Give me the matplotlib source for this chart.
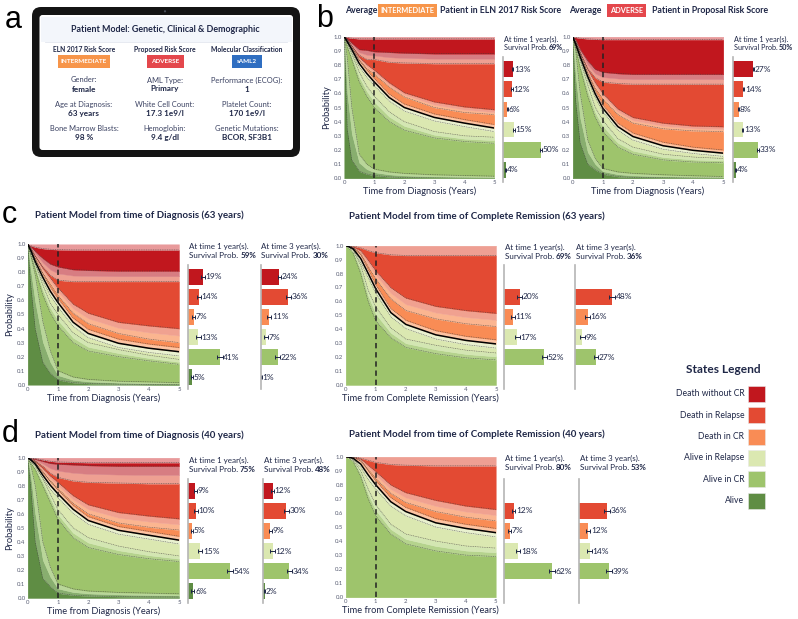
import matplotlib
matplotlib.use('Agg')
import matplotlib.pyplot as plt
from matplotlib.patches import FancyBboxPatch, Rectangle, Circle
import numpy as np

# ---------------- DATA ----------------
T = [0, 0.1, 0.25, 0.5, 0.75, 1, 1.5, 2, 3, 4, 5]

# panel b, left (average INTERMEDIATE patient)
bL_alive_lo = [1, 0.35, 0.13, 0.05, 0.03, 0.02, 0.01, 0.005, 0.002, 0.001, 0.0]
bL_alive_hi = [1, 0.85, 0.50, 0.17, 0.10, 0.065, 0.045, 0.035, 0.025, 0.02, 0.015]
bL_cr_lo = [1, 0.93, 0.84, 0.68, 0.58, 0.50, 0.40, 0.34, 0.285, 0.26, 0.247]
bL_cr_hi = [1, 0.95, 0.88, 0.75, 0.65, 0.58, 0.47, 0.40, 0.33, 0.30, 0.29]
bL_surv_lo = [1, 0.955, 0.895, 0.785, 0.715, 0.655, 0.545, 0.475, 0.405, 0.365, 0.33]
bL_surv_hi = [1, 0.975, 0.925, 0.835, 0.765, 0.705, 0.595, 0.525, 0.455, 0.415, 0.38]
bL_dcr_lo = [1, 0.975, 0.925, 0.835, 0.775, 0.735, 0.645, 0.575, 0.50, 0.465, 0.45]
bL_dcr_hi = [1, 0.98, 0.935, 0.855, 0.805, 0.765, 0.675, 0.605, 0.54, 0.505, 0.485]
bL_dr_lo = [1, 0.98, 0.935, 0.87, 0.84, 0.84, 0.82, 0.815, 0.81, 0.81, 0.81]
bL_dr_hi = [1, 0.985, 0.955, 0.91, 0.905, 0.895, 0.89, 0.885, 0.88, 0.88, 0.88]
bL_top_lo = [1, 0.995, 0.99, 0.985, 0.985, 0.985, 0.985, 0.985, 0.985, 0.985, 0.985]

# panel b, right (average ADVERSE patient)
bR_alive_lo = [1, 0.55, 0.25, 0.10, 0.06, 0.03, 0.012, 0.006, 0.003, 0.002, 0.001]
bR_alive_hi = [1, 0.90, 0.60, 0.27, 0.14, 0.07, 0.045, 0.035, 0.025, 0.018, 0.013]
bR_cr_lo = [1, 0.92, 0.78, 0.58, 0.43, 0.33, 0.22, 0.17, 0.13, 0.115, 0.11]
bR_cr_hi = [1, 0.935, 0.83, 0.66, 0.50, 0.41, 0.28, 0.22, 0.17, 0.15, 0.14]
bR_surv_lo = [1, 0.935, 0.84, 0.695, 0.57, 0.47, 0.34, 0.27, 0.205, 0.175, 0.155]
bR_surv_hi = [1, 0.96, 0.875, 0.74, 0.62, 0.52, 0.39, 0.32, 0.255, 0.22, 0.20]
bR_dcr_lo = [1, 0.962, 0.88, 0.745, 0.635, 0.56, 0.45, 0.39, 0.35, 0.335, 0.33]
bR_dcr_hi = [1, 0.968, 0.888, 0.77, 0.675, 0.60, 0.49, 0.43, 0.39, 0.37, 0.365]
bR_dr_lo = [1, 0.97, 0.89, 0.775, 0.71, 0.68, 0.67, 0.665, 0.665, 0.665, 0.665]
bR_dr_hi = [1, 0.98, 0.91, 0.83, 0.77, 0.75, 0.74, 0.735, 0.735, 0.735, 0.735]
bR_top_lo = [1, 0.995, 0.99, 0.985, 0.982, 0.98, 0.98, 0.98, 0.98, 0.98, 0.98]

# panel c, left (diagnosis, 63 years)
cL_alive_lo = [1, 0.72, 0.40, 0.16, 0.08, 0.035, 0.015, 0.008, 0.004, 0.002, 0.001]
cL_alive_hi = [1, 0.92, 0.78, 0.45, 0.24, 0.10, 0.055, 0.038, 0.025, 0.02, 0.015]
cL_cr_lo = [1, 0.93, 0.82, 0.64, 0.51, 0.42, 0.30, 0.24, 0.20, 0.17, 0.145]
cL_cr_hi = [1, 0.945, 0.86, 0.71, 0.58, 0.50, 0.37, 0.30, 0.25, 0.21, 0.18]
cL_surv_lo = [1, 0.95, 0.86, 0.74, 0.635, 0.555, 0.415, 0.335, 0.265, 0.23, 0.205]
cL_surv_hi = [1, 0.965, 0.895, 0.79, 0.695, 0.615, 0.475, 0.395, 0.325, 0.29, 0.265]
cL_dcr_lo = [1, 0.967, 0.90, 0.795, 0.715, 0.635, 0.51, 0.435, 0.365, 0.325, 0.30]
cL_dcr_hi = [1, 0.973, 0.915, 0.83, 0.76, 0.69, 0.575, 0.51, 0.445, 0.42, 0.40]
cL_dr_lo = [1, 0.975, 0.92, 0.84, 0.78, 0.745, 0.735, 0.735, 0.735, 0.735, 0.735]
cL_dr_hi = [1, 0.985, 0.95, 0.90, 0.86, 0.84, 0.82, 0.815, 0.81, 0.81, 0.81]
cL_top_lo = [1, 0.99, 0.98, 0.97, 0.965, 0.962, 0.96, 0.96, 0.96, 0.96, 0.96]

# panel c, right (complete remission, 63 years)
cR_cr_lo = [1, 0.985, 0.945, 0.80, 0.60, 0.46, 0.34, 0.27, 0.225, 0.195, 0.18]
cR_cr_hi = [1, 0.99, 0.965, 0.86, 0.68, 0.56, 0.41, 0.33, 0.285, 0.25, 0.23]
cR_surv_lo = [1, 0.99, 0.97, 0.88, 0.77, 0.66, 0.49, 0.405, 0.33, 0.29, 0.265]
cR_surv_hi = [1, 0.997, 0.985, 0.935, 0.83, 0.72, 0.55, 0.465, 0.39, 0.35, 0.325]
cR_dcr_lo = [1, 0.998, 0.988, 0.945, 0.85, 0.76, 0.62, 0.535, 0.475, 0.44, 0.42]
cR_dcr_hi = [1, 0.999, 0.993, 0.965, 0.895, 0.82, 0.70, 0.625, 0.565, 0.535, 0.515]
cR_top_lo = [1, 1.0, 0.998, 0.985, 0.965, 0.95, 0.935, 0.93, 0.93, 0.93, 0.93]

# panel d, left (diagnosis, 40 years)
dL_alive_lo = [1, 0.80, 0.40, 0.14, 0.08, 0.035, 0.02, 0.015, 0.01, 0.008, 0.007]
dL_alive_hi = [1, 0.95, 0.80, 0.40, 0.22, 0.10, 0.065, 0.05, 0.04, 0.035, 0.03]
dL_cr_lo = [1, 0.965, 0.915, 0.80, 0.68, 0.56, 0.43, 0.36, 0.31, 0.28, 0.26]
dL_cr_hi = [1, 0.975, 0.94, 0.85, 0.74, 0.63, 0.50, 0.43, 0.37, 0.33, 0.30]
dL_surv_lo = [1, 0.98, 0.945, 0.855, 0.775, 0.715, 0.605, 0.525, 0.455, 0.42, 0.385]
dL_surv_hi = [1, 0.99, 0.965, 0.895, 0.83, 0.77, 0.66, 0.58, 0.51, 0.475, 0.44]
dL_dcr_lo = [1, 0.99, 0.967, 0.90, 0.835, 0.78, 0.675, 0.60, 0.535, 0.505, 0.485]
dL_dcr_hi = [1, 0.992, 0.975, 0.925, 0.87, 0.825, 0.73, 0.665, 0.61, 0.585, 0.565]
dL_dr_lo = [1, 0.993, 0.98, 0.94, 0.89, 0.86, 0.835, 0.825, 0.82, 0.815, 0.815]
dL_dr_hi = [1, 0.996, 0.99, 0.975, 0.96, 0.955, 0.95, 0.945, 0.94, 0.94, 0.94]
dL_top_lo = [1, 0.998, 0.995, 0.985, 0.975, 0.97, 0.967, 0.965, 0.965, 0.965, 0.965]

# panel d, right (complete remission, 40 years)
dR_cr_lo = [1, 0.99, 0.965, 0.86, 0.70, 0.58, 0.45, 0.38, 0.33, 0.30, 0.29]
dR_cr_hi = [1, 0.993, 0.978, 0.90, 0.77, 0.66, 0.52, 0.45, 0.40, 0.365, 0.35]
dR_surv_lo = [1, 0.995, 0.982, 0.925, 0.84, 0.77, 0.65, 0.58, 0.50, 0.46, 0.43]
dR_surv_hi = [1, 0.999, 0.995, 0.97, 0.90, 0.83, 0.71, 0.64, 0.56, 0.52, 0.49]
dR_dcr_lo = [1, 0.999, 0.996, 0.975, 0.91, 0.845, 0.74, 0.675, 0.61, 0.57, 0.545]
dR_dcr_hi = [1, 1.0, 0.998, 0.985, 0.94, 0.895, 0.80, 0.745, 0.69, 0.65, 0.625]
dR_top_lo = [1, 1.0, 0.999, 0.99, 0.975, 0.96, 0.945, 0.94, 0.935, 0.935, 0.935]

# bar values (%), top to bottom
STATES = ['Death without CR', 'Death in Relapse', 'Death in CR',
          'Alive in Relapse', 'Alive in CR', 'Alive']
bL_bar1 = [13, 12, 6, 15, 50, 4]
bL_err1 = [1, 1, 0.8, 1, 1, 0.8]
bR_bar1 = [27, 14, 8, 13, 33, 4]
bR_err1 = [1, 1, 0.8, 1, 1, 0.8]
cL_bar1 = [19, 14, 7, 13, 41, 5]
cL_err1 = [2.5, 2.5, 2, 3, 3.5, 1.5]
cL_bar3 = [24, 36, 11, 7, 22, 1]
cL_err3 = [2, 3, 3, 2.5, 3, 0.5]
cR_bar1 = [20, 11, 17, 52]
cR_err1 = [3, 2.5, 3.5, 3.5]
cR_bar3 = [48, 16, 9, 27]
cR_err3 = [4, 3, 3, 3]
dL_bar1 = [9, 10, 5, 15, 54, 6]
dL_err1 = [2, 2.5, 1.5, 3, 3.5, 2]
dL_bar3 = [12, 30, 9, 12, 34, 2]
dL_err3 = [2, 3, 2, 3, 3.5, 0.7]
dR_bar1 = [12, 7, 18, 62]
dR_err1 = [2.5, 2, 3, 3.5]
dR_bar3 = [36, 12, 14, 39]
dR_err3 = [4, 2.5, 3, 3.5]

surv_labels = {'bL1': '69%', 'bR1': '50%', 'cL1': '59%', 'cL3': '30%',
               'cR1': '69%', 'cR3': '36%', 'dL1': '75%', 'dL3': '48%',
               'dR1': '80%', 'dR3': '53%'}

# ---------------- STYLE ----------------
W, H = 798, 619
plt.rcParams['font.family'] = ['Lato', 'DejaVu Sans']
NAVY = '#1f2747'
C_DWC, C_DR, C_DCR = '#c1171e', '#e34a33', '#f98c55'
C_AR, C_ACR, C_A = '#dbe8b1', '#9ec46c', '#5f8d44'
STATE_COLS = [C_DWC, C_DR, C_DCR, C_AR, C_ACR, C_A]
BAND_ALIVE = ('#88ae6f', '#b9d699')
BAND_CR = ('#b5d38d', '#d3e6b2')
BAND_SURV = ('#e9f1cf', '#fcc3a2')
BAND_DCR = ('#fbb590', '#f0a190')
BAND_DR = ('#eea092', '#d77d82')
TOP_DWC = '#e89a9b'
TOP_DR = '#ee9f93'

fig = plt.figure(figsize=(W / 100, H / 100), dpi=100)
bg = fig.add_axes([0, 0, 1, 1])
bg.set_xlim(0, W)
bg.set_ylim(H, 0)
bg.axis('off')


def pax(x0, y0, x1, y1):
    return fig.add_axes([x0 / W, 1 - y1 / H, (x1 - x0) / W, (y1 - y0) / H])


def area(ax, layers, states, top_lo, top_col, surv_idx, xlabel, ylabel):
    t = np.array(T)
    prev = np.zeros_like(t)
    for (lo, hi, bc), sc in zip(layers, states[:-1]):
        lo = np.array(lo)
        hi = np.array(hi)
        mid = (lo + hi) / 2
        ax.fill_between(t, prev, lo, facecolor=sc, edgecolor=sc, lw=0.3)
        ax.fill_between(t, lo, mid, facecolor=bc[0], edgecolor=bc[0], lw=0.3)
        ax.fill_between(t, mid, hi, facecolor=bc[1], edgecolor=bc[1], lw=0.3)
        prev = hi
    ax.fill_between(t, prev, top_lo, facecolor=states[-1], edgecolor=states[-1], lw=0.3)
    ax.fill_between(t, top_lo, 1, facecolor=top_col, edgecolor=top_col, lw=0.3)
    dk = dict(color='#3a3a3a', lw=0.45, ls=(0, (1.6, 1.2)), alpha=0.75)
    for lo, hi, _ in layers:
        ax.plot(t, lo, **dk)
        ax.plot(t, hi, **dk)
    ax.plot(t, top_lo, **dk)
    lo, hi, _ = layers[surv_idx]
    ax.plot(t, (np.array(lo) + np.array(hi)) / 2, color='black', lw=1.1)
    ax.axvline(1, color='#222222', lw=1.1, ls=(0, (3.5, 2.5)))
    ax.set_xlim(0, 5)
    ax.set_ylim(0, 1)
    ax.set_xticks(range(6))
    ax.set_yticks(np.round(np.arange(0, 1.01, 0.1), 1))
    ax.set_yticklabels([f'{v:.1f}' for v in np.arange(0, 1.01, 0.1)])
    ax.tick_params(length=0, labelsize=4.3, colors='#5a5f75', pad=1.5)
    for s in ax.spines.values():
        s.set_visible(False)
    ax.set_xlabel(xlabel, fontsize=6.7, color=NAVY, labelpad=1)
    if ylabel:
        ax.set_ylabel('Probability', fontsize=6.7, color=NAVY, labelpad=2)


def bars(ax, vals, errs, slots, cols):
    ax.barh(slots, vals, height=0.78, color=cols, xerr=errs,
            error_kw=dict(ecolor=NAVY, elinewidth=0.7, capsize=1.5, capthick=0.7))
    for s, v, e in zip(slots, vals, errs):
        ax.text(v + e + 0.8, s, f'{v}%', va='center', ha='left', fontsize=6.0, color=NAVY)
    ax.set_ylim(5.6, -0.6)
    ax.set_xlim(0, 60 / 0.77)
    ax.set_xticks([])
    ax.set_yticks([])
    for k, s in ax.spines.items():
        s.set_visible(k == 'left')
    ax.spines['left'].set_color('#b5b5b5')
    ax.spines['left'].set_linewidth(1.2)
    ax.patch.set_alpha(0)


def bar_header(x, y, year, surv, fs=5.8):
    bg.text(x, y, f'At time {year} year(s).', fontsize=fs, color=NAVY, va='center', ha='left')
    t1 = bg.text(x, y + 9, 'Survival Prob. ', fontsize=fs, color=NAVY, va='center', ha='left')
    bg.annotate(surv, xy=(1, 0), xycoords=t1, va='bottom', ha='left',
                fontsize=fs, color=NAVY, weight='bold')


def lay6(p):
    g = globals()
    return [(g[p + '_alive_lo'], g[p + '_alive_hi'], BAND_ALIVE),
            (g[p + '_cr_lo'], g[p + '_cr_hi'], BAND_CR),
            (g[p + '_surv_lo'], g[p + '_surv_hi'], BAND_SURV),
            (g[p + '_dcr_lo'], g[p + '_dcr_hi'], BAND_DCR),
            (g[p + '_dr_lo'], g[p + '_dr_hi'], BAND_DR)]


def lay4(p):
    g = globals()
    return [(g[p + '_cr_lo'], g[p + '_cr_hi'], BAND_CR),
            (g[p + '_surv_lo'], g[p + '_surv_hi'], BAND_SURV),
            (g[p + '_dcr_lo'], g[p + '_dcr_hi'], BAND_DCR)]


ST6 = [C_A, C_ACR, C_AR, C_DCR, C_DR, C_DWC]
ST4 = [C_ACR, C_AR, C_DCR, C_DR]
XD = 'Time from Diagnosis (Years)'
XC = 'Time from Complete Remission (Years)'

# ---------------- panel a : tablet ----------------
bg.add_patch(FancyBboxPatch((32, 7), 268, 150, boxstyle='round,pad=0,rounding_size=9',
                            fc='#141414', ec='none'))
bg.add_patch(FancyBboxPatch((39.5, 15), 253.5, 135, boxstyle='round,pad=0,rounding_size=3',
                            fc='white', ec='none'))
bg.add_patch(Rectangle((41, 16.5), 250.5, 25, fc='#f3f6fb', ec='none'))
bg.plot([45, 287], [41.7, 41.7], color='#e3e7ef', lw=0.6)
bg.add_patch(Circle((165, 11.3), 1.1, fc='#4a4f5a', ec='none'))
bg.text(165, 29.3, 'Patient Model: Genetic, Clinical & Demographic', ha='center', va='center',
        fontsize=6.4, weight='bold', color=NAVY)
cols_x = [84, 165, 246.7]
for cx, lab in zip(cols_x, ['ELN 2017 Risk Score', 'Proposed Risk Score', 'Molecular Classification']):
    bg.text(cx, 49.3, lab, ha='center', va='center', fontsize=4.9, weight='bold', color=NAVY)
for (x0, x1, col, lab) in [(57.7, 110, '#f7954a', 'INTERMEDIATE'), (146.7, 184, '#e4474c', 'ADVERSE'),
                           (231.7, 261.7, '#2f6ec1', 'sAML2')]:
    bg.add_patch(Rectangle((x0, 55), x1 - x0, 12.5, fc=col, ec='none'))
    bg.text((x0 + x1) / 2, 61.3, lab, ha='center', va='center', fontsize=4.6, weight='bold', color='white')
rows = [(80, 89, [('Gender:', 'female'), ('AML Type:', 'Primary'), ('Performance (ECOG):', '1')]),
        (104.3, 113.3, [('Age at Diagnosis:', '63 years'), ('White Cell Count:', '17.3 1e9/l'),
                        ('Platelet Count:', '170 1e9/l')]),
        (128.3, 137.3, [('Bone Marrow Blasts:', '98 %'), ('Hemoglobin:', '9.4 g/dl'),
                        ('Genetic Mutations:', 'BCOR, SF3B1')])]
for y1, y2, items in rows:
    for cx, (lab, val) in zip(cols_x, items):
        bg.text(cx, y1, lab, ha='center', va='center', fontsize=5.4, color='#3b4262')
        bg.text(cx, y2, val, ha='center', va='center', fontsize=5.9, weight='bold', color=NAVY)

# panel letters
for x, y, s in [(5, 28, 'a'), (316, 27, 'b'), (2, 223, 'c'), (2, 442, 'd')]:
    bg.text(x, y, s, fontsize=22, family=['Liberation Sans', 'DejaVu Sans'], va='baseline',
            ha='left', color='black')

# ---------------- panel b ----------------
hdr = dict(fontsize=6.3, weight='bold', color=NAVY, va='center')
bg.text(345, 10.7, 'Average', ha='left', **hdr)
bg.text(407.5, 10.7, 'INTERMEDIATE', ha='center', fontsize=5.3, weight='bold', color='white', va='center',
        bbox=dict(boxstyle='square,pad=0.4', fc='#f7954a', ec='none'))
bg.text(440, 10.7, 'Patient in ELN 2017 Risk Score', ha='left', **hdr)
bg.text(569, 10.7, 'Average', ha='left', **hdr)
bg.text(626.5, 10.7, 'ADVERSE', ha='center', fontsize=5.3, weight='bold', color='white', va='center',
        bbox=dict(boxstyle='square,pad=0.4', fc='#e4474c', ec='none'))
bg.text(652, 10.7, 'Patient in Proposal Risk Score', ha='left', **hdr)

area(pax(344.3, 36.7, 494.3, 178.3), lay6('bL'), ST6, bL_top_lo, TOP_DWC, 2, XD, True)
area(pax(572.7, 36.7, 723.3, 178.3), lay6('bR'), ST6, bR_top_lo, TOP_DWC, 2, XD, False)
bars(pax(502.7, 57, 562.7, 182), bL_bar1, bL_err1, range(6), STATE_COLS)
bars(pax(732.7, 57, 792.7, 182), bR_bar1, bR_err1, range(6), STATE_COLS)
bar_header(503.5, 39, 1, surv_labels['bL1'], fs=5.2)
bar_header(733.5, 39, 1, surv_labels['bR1'], fs=5.2)

# ---------------- panel c ----------------
tit = dict(fontsize=7.0, weight='bold', color=NAVY, va='center', ha='left')
bg.text(35, 215.7, 'Patient Model from time of Diagnosis (63 years)', **tit)
bg.text(349, 216.7, 'Patient Model from time of Complete Remission (63 years)', **tit)
area(pax(27.7, 244.3, 179, 384.7), lay6('cL'), ST6, cL_top_lo, TOP_DWC, 2, XD, True)
area(pax(345.7, 245.7, 496, 385), lay4('cR'), ST4, cR_top_lo, TOP_DR, 1, XC, False)
bars(pax(188.3, 264.6, 248.3, 389.4), cL_bar1, cL_err1, range(6), STATE_COLS)
bars(pax(260.7, 264.6, 320.7, 389.4), cL_bar3, cL_err3, range(6), STATE_COLS)
bars(pax(504.3, 264.6, 564.3, 389.4), cR_bar1, cR_err1, range(1, 5), STATE_COLS[1:5])
bars(pax(575.3, 264.6, 635.3, 389.4), cR_bar3, cR_err3, range(1, 5), STATE_COLS[1:5])
bar_header(189, 246, 1, surv_labels['cL1'])
bar_header(261.4, 246, 3, surv_labels['cL3'])
bar_header(505, 247.7, 1, surv_labels['cR1'])
bar_header(576, 247.7, 3, surv_labels['cR3'])

# ---------------- panel d ----------------
bg.text(35, 435.7, 'Patient Model from time of Diagnosis (40 years)', **tit)
bg.text(349, 434.3, 'Patient Model from time of Complete Remission (40 years)', **tit)
area(pax(27.7, 457.7, 179, 598), lay6('dL'), ST6, dL_top_lo, TOP_DWC, 2, XD, True)
area(pax(345.7, 456.7, 495.7, 597.3), lay4('dR'), ST4, dR_top_lo, TOP_DR, 1, XC, False)
bars(pax(188.3, 478.6, 248.3, 603.4), dL_bar1, dL_err1, range(6), STATE_COLS)
bars(pax(263.3, 478.6, 323.3, 603.4), dL_bar3, dL_err3, range(6), STATE_COLS)
bars(pax(504.3, 478.6, 564.3, 603.4), dR_bar1, dR_err1, range(1, 5), STATE_COLS[1:5])
bars(pax(579, 478.6, 639, 603.4), dR_bar3, dR_err3, range(1, 5), STATE_COLS[1:5])
bar_header(189, 460.3, 1, surv_labels['dL1'])
bar_header(264, 460.3, 3, surv_labels['dL3'])
bar_header(505, 458.3, 1, surv_labels['dR1'])
bar_header(579.7, 458.3, 3, surv_labels['dR3'])

# ---------------- legend ----------------
bg.text(723.3, 369.3, 'States Legend', ha='center', va='center', fontsize=8.6, weight='bold', color=NAVY)
for i, (lab, col) in enumerate(zip(STATES, STATE_COLS)):
    cy = 394 + i * 21.3
    bg.add_patch(Rectangle((748, cy - 8), 17, 16, fc=col, ec='#e8e8e8', lw=0.4))
    bg.text(744.3, cy, lab, ha='right', va='center', fontsize=6.2, color=NAVY)

fig.savefig('out.png', dpi=100, facecolor='white')
